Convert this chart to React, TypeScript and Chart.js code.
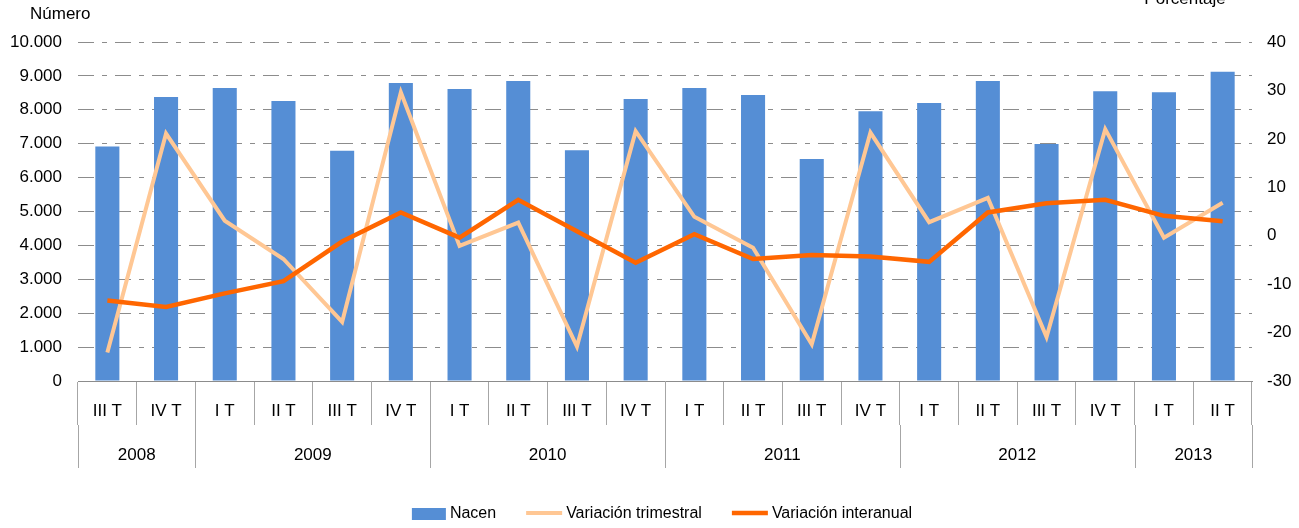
import React, { useEffect, useRef } from 'react';
import { Chart, registerables } from 'chart.js';

Chart.register(...registerables);

// ---- Data ----
const quarters = [
  'III T', 'IV T',
  'I T', 'II T', 'III T', 'IV T',
  'I T', 'II T', 'III T', 'IV T',
  'I T', 'II T', 'III T', 'IV T',
  'I T', 'II T', 'III T', 'IV T',
  'I T', 'II T',
];
const years = ['2008', '2009', '2010', '2011', '2012', '2013'];
const quartersPerYear = [2, 4, 4, 4, 4, 2];

const nacen = [6920, 8380, 8640, 8260, 6790, 8790, 8610, 8850, 6810, 8320, 8640, 8440, 6550, 7960, 8200, 8850, 6990, 8550, 8520, 9120];
const variacionTrimestral = [-24.1, 21.1, 3.1, -4.8, -17.8, 29.6, -2.1, 2.7, -22.9, 21.6, 3.9, -2.5, -22.4, 21.3, 2.8, 7.8, -20.9, 22.0, -0.4, 6.8];
const variacionInteranual = [-13.4, -14.7, -11.9, -9.4, -1.2, 4.8, -0.4, 7.4, 0.9, -5.6, 0.3, -4.8, -4.0, -4.3, -5.4, 4.8, 6.7, 7.4, 4.1, 3.0];

const seriesLabels = ['Nacen', 'Variación trimestral', 'Variación interanual'];
const leftAxisTitle = 'Número';
const rightAxisTitle = 'Porcentaje';
const leftAxisRange = [0, 10000, 1000];
const rightAxisRange = [-30, 40, 10];

// ---- Styles ----
const FONT = "'Liberation Sans', Arial, sans-serif";
const TEXT = '#000000';
const BAR_COLOR = '#558ED5';
const LIGHT_ORANGE = '#FFC794';
const DARK_ORANGE = '#FF6600';
const GRID_COLOR = '#8C8C8C';
const SEP_COLOR = '#A6A6A6';
const QUARTER_TICK_LEN = 44;

function formatThousands(v: number): string {
  const s = Math.round(v).toString();
  return s.replace(/\B(?=(\d{3})+(?!\d))/g, '.');
}

const extrasPlugin = {
  id: 'extras',
  afterDraw(chart: any) {
    const ctx = chart.ctx as CanvasRenderingContext2D;
    const x = chart.scales.x;
    const area = chart.chartArea;
    const step = x.getPixelForValue(1) - x.getPixelForValue(0);
    ctx.save();

    // Year separators and year labels
    ctx.strokeStyle = SEP_COLOR;
    ctx.lineWidth = 1;
    const sepTop = x.top + QUARTER_TICK_LEN;
    const sepBottom = x.bottom;
    const drawSep = (px: number) => {
      const p = Math.round(px) + 0.5;
      ctx.beginPath();
      ctx.moveTo(p, sepTop);
      ctx.lineTo(p, sepBottom);
      ctx.stroke();
    };
    ctx.font = `17px ${FONT}`;
    ctx.fillStyle = TEXT;
    ctx.textAlign = 'center';
    ctx.textBaseline = 'middle';
    let idx = 0;
    drawSep(x.getPixelForValue(0) - step / 2);
    years.forEach((yr, i) => {
      const n = quartersPerYear[i];
      const start = x.getPixelForValue(idx) - step / 2;
      const end = x.getPixelForValue(idx + n - 1) + step / 2;
      drawSep(end);
      ctx.fillText(yr, (start + end) / 2, x.bottom - 13);
      idx += n;
    });

    // Axis titles
    ctx.textBaseline = 'alphabetic';
    ctx.textAlign = 'left';
    ctx.fillText(leftAxisTitle, 30, 19);
    ctx.textAlign = 'center';
    ctx.fillText(rightAxisTitle, 1185, 4);

    // Legend
    ctx.font = `16px ${FONT}`;
    const items = chart.data.datasets.map((ds: any) => ({
      ds,
      w: ctx.measureText(ds.label).width,
      sym: ds.type === 'bar' ? 34 : 36,
    }));
    const gapSym = 4;
    const gapItem = 30;
    const total = items.reduce((s: number, it: any) => s + it.sym + gapSym + it.w, 0) + gapItem * (items.length - 1);
    let cx = (area.left + area.right) / 2 - total / 2 - 3;
    const cy = chart.height - 14;
    ctx.textAlign = 'left';
    ctx.textBaseline = 'middle';
    items.forEach((it: any) => {
      if (it.ds.type === 'bar') {
        ctx.fillStyle = it.ds.backgroundColor;
        ctx.fillRect(cx, cy - 6, it.sym, 12);
      } else {
        ctx.strokeStyle = it.ds.borderColor;
        ctx.lineWidth = it.ds.borderWidth;
        ctx.beginPath();
        ctx.moveTo(cx, cy - 1);
        ctx.lineTo(cx + it.sym, cy - 1);
        ctx.stroke();
      }
      cx += it.sym + gapSym;
      ctx.fillStyle = TEXT;
      ctx.fillText(it.ds.label, cx, cy);
      cx += it.w + gapItem;
    });
    ctx.restore();
  },
};

export default function App() {
  const canvasRef = useRef<HTMLCanvasElement | null>(null);

  useEffect(() => {
    if (!canvasRef.current) return;
    const chart = new Chart(canvasRef.current, {
      type: 'bar',
      data: {
        labels: quarters,
        datasets: [
          {
            type: 'bar',
            label: seriesLabels[0],
            data: nacen,
            backgroundColor: BAR_COLOR,
            yAxisID: 'y',
            barPercentage: 0.41,
            categoryPercentage: 1,
            order: 3,
          } as any,
          {
            type: 'line',
            label: seriesLabels[1],
            data: variacionTrimestral,
            borderColor: LIGHT_ORANGE,
            backgroundColor: LIGHT_ORANGE,
            borderWidth: 4,
            pointRadius: 0,
            tension: 0,
            yAxisID: 'y2',
            order: 2,
          } as any,
          {
            type: 'line',
            label: seriesLabels[2],
            data: variacionInteranual,
            borderColor: DARK_ORANGE,
            backgroundColor: DARK_ORANGE,
            borderWidth: 4.5,
            pointRadius: 0,
            tension: 0,
            yAxisID: 'y2',
            order: 1,
          } as any,
        ],
      },
      options: {
        responsive: false,
        animation: false,
        devicePixelRatio: 1,
        layout: { padding: { top: 42, bottom: 60, left: 0, right: 0 } },
        plugins: {
          legend: { display: false },
          tooltip: { enabled: false },
          title: { display: false },
        },
        scales: {
          x: {
            type: 'category',
            offset: true,
            grid: {
              display: true,
              offset: true,
              drawOnChartArea: false,
              drawTicks: true,
              tickLength: QUARTER_TICK_LEN,
              color: SEP_COLOR,
              lineWidth: 1,
            },
            border: { display: true, color: GRID_COLOR, width: 1 },
            ticks: {
              color: TEXT,
              font: { family: FONT, size: 17 },
              padding: -24,
              maxRotation: 0,
              autoSkip: false,
            },
            afterFit: (scale: any) => {
              scale.height = 87;
            },
          },
          y: {
            position: 'left',
            min: leftAxisRange[0],
            max: leftAxisRange[1],
            grid: {
              color: GRID_COLOR,
              lineWidth: 1,
              drawTicks: false,
            },
            border: { display: false, dash: [16, 8, 5, 8] },
            ticks: {
              stepSize: leftAxisRange[2],
              color: TEXT,
              font: { family: FONT, size: 17 },
              padding: 16,
              callback: (v: any) => formatThousands(Number(v)),
            },
            afterFit: (scale: any) => {
              scale.width = 78;
            },
          },
          y2: {
            position: 'right',
            min: rightAxisRange[0],
            max: rightAxisRange[1],
            grid: { drawOnChartArea: false, drawTicks: false },
            border: { display: false },
            ticks: {
              stepSize: rightAxisRange[2],
              color: TEXT,
              font: { family: FONT, size: 17 },
              padding: 15,
            },
            afterFit: (scale: any) => {
              scale.width = 47;
            },
          },
        },
      },
      plugins: [extrasPlugin],
    });
    return () => chart.destroy();
  }, []);

  return (
    <div style={{ position: 'absolute', left: 0, top: 0, width: 1299, height: 528, background: '#ffffff' }}>
      <canvas ref={canvasRef} width={1299} height={528} style={{ width: 1299, height: 528, display: 'block' }} />
    </div>
  );
}
